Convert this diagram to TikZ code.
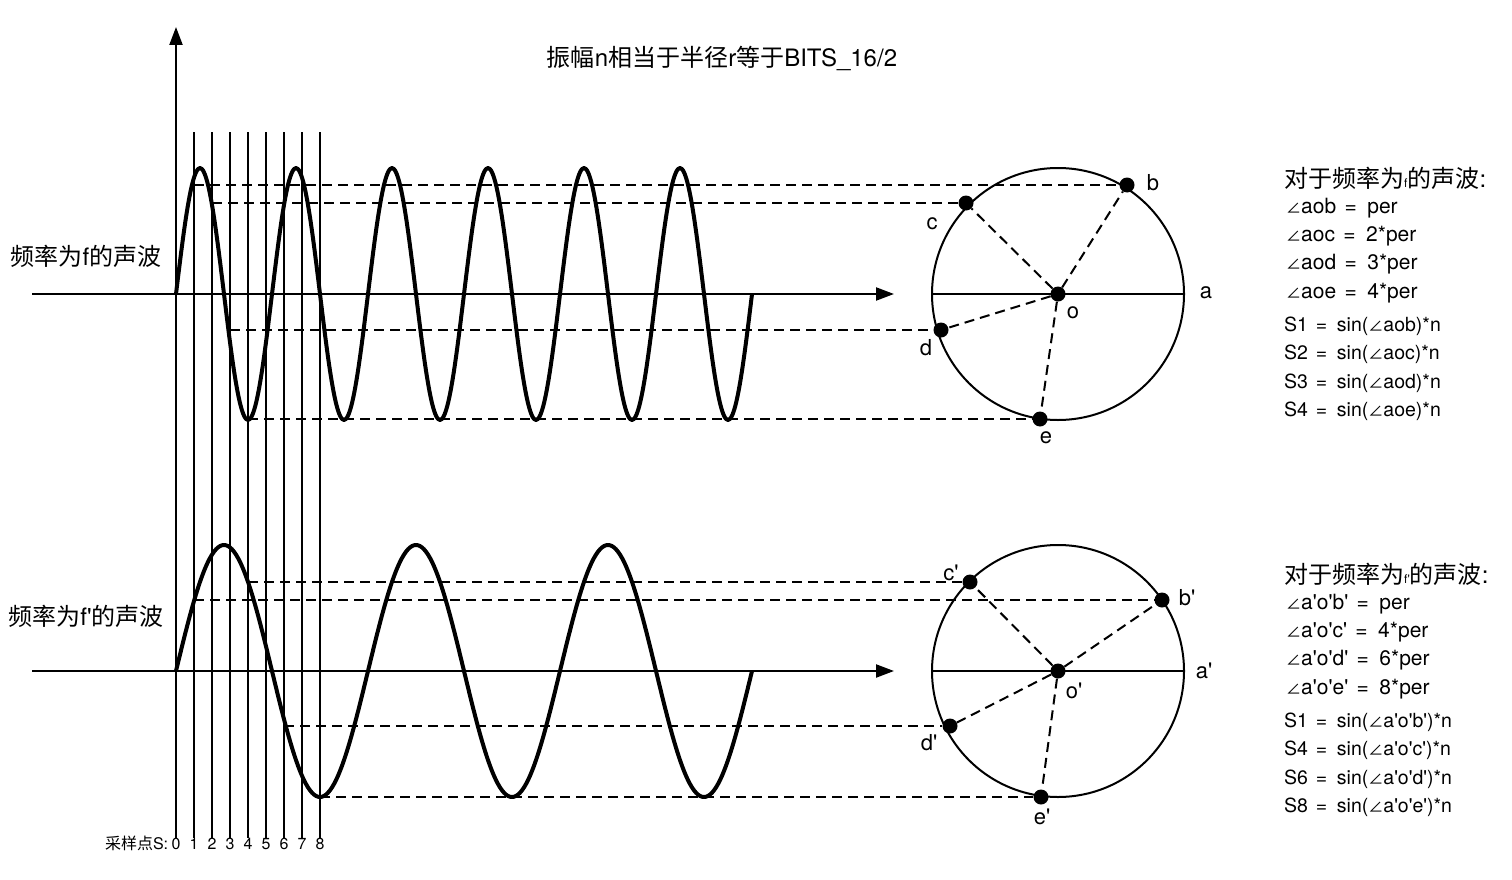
\documentclass[tikz,border=0pt]{standalone}
\usepackage{fontspec}
\newfontfamily\zhfont{Noto Sans CJK SC}
\newfontfamily\latfont{TeX Gyre Heros}
\newcommand{\zh}[1]{{\zhfont #1}}
\newcommand{\ang}{{\zhfont\fontsize{15}{15}\selectfont ∠}}
\newcommand{\eqsign}{\hspace{0.4em}=\hspace{0.5em}}
\newcommand{\tinyf}[1]{{\fontsize{12}{12}\selectfont #1}}
\usetikzlibrary{arrows.meta, positioning}

\begin{document}
\begin{tikzpicture}[
    x=1pt, y=-1pt,
    axis/.style={line width=2.2pt},
    arrow/.style={->, >={Triangle[length=18pt, width=13pt]}, line width=2.2pt},
    wave/.style={line width=4pt, line join=round},
    guide/.style={dash pattern=on 10pt off 6pt, line width=2pt},
    ring/.style={circle, draw, line width=2pt, minimum size=252pt, inner sep=0pt},
    dot/.style={circle, fill, minimum size=15pt, inner sep=0pt},
    pointlabel/.style={font=\latfont\fontsize{22}{22}\selectfont, inner sep=0pt},
    caption/.style={font=\latfont\fontsize{24}{28}\selectfont, inner sep=0pt},
    formula/.style={anchor=west, inner sep=0pt, font=\latfont\fontsize{21}{24}\selectfont},
    sinus/.style={anchor=west, inner sep=0pt, font=\latfont\fontsize{19.5}{22}\selectfont},
    sample/.style={font=\latfont\fontsize{16}{18}\selectfont, inner sep=0pt}
]
\useasboundingbox (0,0) rectangle (1512,880);

% Title
\node[caption] (title) at (722,58) {\zh{振幅}n\zh{相当于半径}r\zh{等于}BITS\_16/2};

% Sample lines
\foreach \i in {0,...,8} {
  \node[sample] (s\i) at ({176+18*\i},844) {\i};
}
\node[sample, anchor=base east] (samplename) at ([xshift=-3pt]s0.base west) {\zh{采样点}S:};
\foreach \i in {1,...,8} \draw[axis] (s\i.north) -- ({176+18*\i},132);
\draw[arrow] (s0.north) -- (176,27);

% Wave f
\node[caption] (wavef) at (86,256) {\zh{频率为}f\zh{的声波}};
\coordinate (fleft) at (32,294);
\coordinate (fright) at (894,294);
\draw[arrow] (fleft) -- (fright);
\draw[wave] plot[domain=0:576, samples=289, smooth] ({176+\x},{294-126*sin(\x*3.75)});

% Circle f
\node[ring] (circf) at (1058,294) {};
\draw[axis] (circf.west) -- (circf.east);
\node[dot] (o) at (circf.center) {};
\node[dot] (b) at (1127,185) {};
\node[dot] (c) at (966,203) {};
\node[dot] (d) at (941,330) {};
\node[dot] (e) at (1040,419) {};
\node[pointlabel] (la) at (1206,293) {a};
\node[pointlabel] (lb) at (1153,183) {b};
\node[pointlabel] (lc) at (932,224) {c};
\node[pointlabel] (ld) at (926,348) {d};
\node[pointlabel] (le) at (1046,438) {e};
\node[pointlabel] (lo) at (1073,313) {o};
\foreach \p in {b,c,d,e} \draw[guide] (o) -- (\p);

\coordinate (p1) at (194,185);
\coordinate (p2) at (212,203);
\coordinate (p3) at (230,330);
\coordinate (p4) at (248,419);
\draw[guide] (p1) -- (b);
\draw[guide] (p2) -- (c);
\draw[guide] (p3) -- (d);
\draw[guide] (p4) -- (e);

% Wave f'
\node[caption] (wavefp) at (86,616) {\zh{频率为}f'\zh{的声波}};
\coordinate (fpleft) at (32,671);
\coordinate (fpright) at (894,671);
\draw[arrow] (fpleft) -- (fpright);
\draw[wave] plot[domain=0:576, samples=289, smooth] ({176+\x},{671-126*sin(\x*1.875)});

% Circle f'
\node[ring] (circfp) at (1058,671) {};
\draw[axis] (circfp.west) -- (circfp.east);
\node[dot] (op) at (circfp.center) {};
\node[dot] (bp) at (1162,600) {};
\node[dot] (cp) at (970,582) {};
\node[dot] (dp) at (950,726) {};
\node[dot] (ep) at (1041,797) {};
\node[pointlabel] (lap) at (1204,671) {a'};
\node[pointlabel] (lbp) at (1187,598) {b'};
\node[pointlabel] (lcp) at (951,573) {c'};
\node[pointlabel] (ldp) at (929,743) {d'};
\node[pointlabel] (lep) at (1042,817) {e'};
\node[pointlabel] (lop) at (1074,691) {o'};
\foreach \p in {bp,cp,dp,ep} \draw[guide] (op) -- (\p);

\coordinate (q1) at (194,600);
\coordinate (q4) at (248,582);
\coordinate (q6) at (284,726);
\coordinate (q8) at (320,797);
\draw[guide] (q1) -- (bp);
\draw[guide] (q4) -- (cp);
\draw[guide] (q6) -- (dp);
\draw[guide] (q8) -- (ep);

% Formulas f
\node[caption, anchor=west] (headf) at (1284,178) {\zh{对于频率为}\tinyf{f}\zh{的声波}:};
\node[formula] (ab) at (1286,208) {\ang aob\eqsign per};
\node[formula] (ac) at (1286,236) {\ang aoc\eqsign 2*per};
\node[formula] (ad) at (1286,264) {\ang aod\eqsign 3*per};
\node[formula] (ae) at (1286,293) {\ang aoe\eqsign 4*per};
\node[sinus] (sb) at (1284,326) {S1\eqsign sin(\ang aob)*n};
\node[sinus] (sc) at (1284,354) {S2\eqsign sin(\ang aoc)*n};
\node[sinus] (sd) at (1284,383) {S3\eqsign sin(\ang aod)*n};
\node[sinus] (se) at (1284,411) {S4\eqsign sin(\ang aoe)*n};

% Formulas f'
\node[caption, anchor=west] (headfp) at (1284,574) {\zh{对于频率为}\tinyf{f'}\zh{的声波}:};
\node[formula] (abp) at (1286,604) {\ang a'o'b'\eqsign per};
\node[formula] (acp) at (1286,632) {\ang a'o'c'\eqsign 4*per};
\node[formula] (adp) at (1286,660) {\ang a'o'd'\eqsign 6*per};
\node[formula] (aep) at (1286,689) {\ang a'o'e'\eqsign 8*per};
\node[sinus] (sbp) at (1284,722) {S1\eqsign sin(\ang a'o'b')*n};
\node[sinus] (scp) at (1284,750) {S4\eqsign sin(\ang a'o'c')*n};
\node[sinus] (sdp) at (1284,779) {S6\eqsign sin(\ang a'o'd')*n};
\node[sinus] (sep) at (1284,807) {S8\eqsign sin(\ang a'o'e')*n};

\end{tikzpicture}
\end{document}
